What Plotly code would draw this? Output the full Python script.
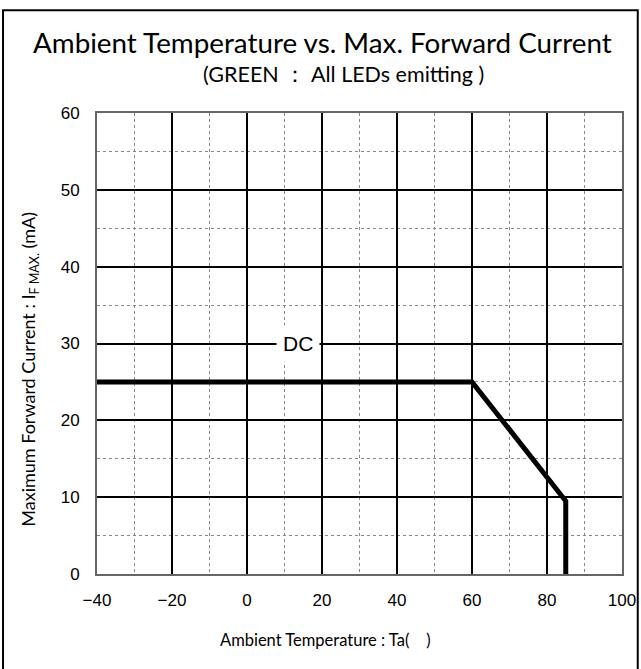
import plotly.graph_objects as go

# ── Data ─────────────────────────────────────────────────────────────────────
temp_c = [-40, 60, 85, 85]
if_max_ma = [25, 25, 9.5, 0]

x_ticks = [-40, -20, 0, 20, 40, 60, 80, 100]
x_tick_text = ["−40", "−20", "0", "20", "40", "60", "80", "100"]
y_ticks = [0, 10, 20, 30, 40, 50, 60]

label_text = "DC"
label_x, label_y = 13.5, 30

TICK_FONT = {"family": "Liberation Sans, Arial, sans-serif", "size": 17, "color": "#000"}
TEXT_FONT = "Lato, Open Sans, sans-serif"

fig = go.Figure(go.Scatter(
    x=temp_c, y=if_max_ma,
    mode="lines",
    line={"color": "#000", "width": 5},
    hoverinfo="skip",
    showlegend=False,
))

fig.add_annotation(
    x=label_x, y=label_y, text=label_text, showarrow=False,
    font={"family": "Liberation Sans, Arial, sans-serif", "size": 21, "color": "#000"},
    bgcolor="white", borderpad=6,
)


def _text(x, y, text, size, angle=0):
    fig.add_annotation(
        x=x, y=y, xref="paper", yref="paper", showarrow=False,
        xanchor="center", yanchor="middle", textangle=angle,
        text=text, font={"family": TEXT_FONT, "size": size, "color": "#000"},
    )


# titles
_text(0.43, 1.154, "Ambient Temperature vs. Max. Forward Current", 27.8)
_text(0.47, 1.085, "(GREEN ： All LEDs emitting )", 21.5)
_text(0.435, -0.143, "Ambient Temperature : Ta(    )", 16.5)
_text(-0.128, 0.445, "Maximum Forward Current : I<sub>F MAX.</sub> (mA)", 18, angle=-90)

# outer frame
fig.add_shape(
    type="rect", xref="paper", yref="paper",
    x0=-0.179, x1=1.030, y0=-0.3, y1=1.223,
    line={"color": "#000", "width": 2}, layer="below",
)

fig.update_layout(
    width=641, height=669,
    paper_bgcolor="white", plot_bgcolor="white",
    margin={"l": 97, "r": 19, "t": 113, "b": 95},
    xaxis={
        "range": [-40, 100], "tickvals": x_ticks, "ticktext": x_tick_text,
        "tickfont": TICK_FONT, "ticks": "", "ticklabelstandoff": 10,
        "showgrid": True, "gridcolor": "#000", "gridwidth": 2,
        "minor": {"dtick": 10, "tick0": 0, "showgrid": True, "gridcolor": "#888",
                  "griddash": "dot", "gridwidth": 1},
        "showline": True, "linecolor": "#666", "linewidth": 2, "mirror": True,
        "zeroline": False, "automargin": False,
    },
    yaxis={
        "range": [0, 60], "tickvals": y_ticks,
        "tickfont": TICK_FONT, "ticks": "", "ticklabelstandoff": 12,
        "showgrid": True, "gridcolor": "#000", "gridwidth": 2,
        "minor": {"dtick": 5, "tick0": 0, "showgrid": True, "gridcolor": "#888",
                  "griddash": "dot", "gridwidth": 1},
        "showline": True, "linecolor": "#666", "linewidth": 2, "mirror": True,
        "zeroline": False, "automargin": False,
    },
)

# page body has a default 8px margin; drop it so the figure sits at the window origin
fig.write_html(
    "out.html",
    config={"responsive": False, "displayModeBar": False},
    post_script="document.body.style.margin = '0'; document.body.style.overflow = 'hidden';",
)
